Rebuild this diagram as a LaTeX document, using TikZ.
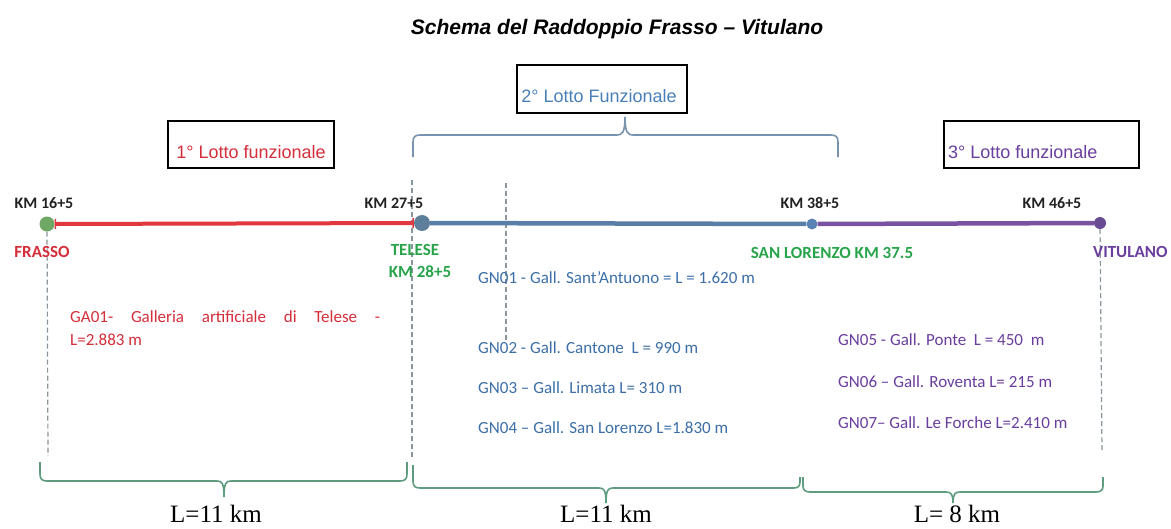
\documentclass[tikz,border=0pt]{standalone}
\usepackage{fontspec}
\setmainfont{Liberation Serif}
\newfontfamily\arialf{Liberation Sans}
\newfontfamily\calibf{Carlito}
\usetikzlibrary{arrows.meta}
\definecolor{rossoT}{HTML}{D42E3A}
\definecolor{rossoL}{HTML}{E0383E}
\definecolor{bluT}{HTML}{3C6FA8}
\definecolor{bluBox}{HTML}{4A80B8}
\definecolor{violaT}{HTML}{6A3E9E}
\definecolor{verdeT}{HTML}{28A44B}
\definecolor{lineB}{HTML}{5A7FA6}
\definecolor{lineP}{HTML}{7A52A2}
\definecolor{braceG}{HTML}{5E9C80}
\definecolor{braceB}{HTML}{7893AD}
\definecolor{dashG}{HTML}{8A969C}
\definecolor{frassoG}{HTML}{6FA865}
\definecolor{teleseB}{HTML}{5D7F9C}
\definecolor{sanlB}{HTML}{5A82B4}
\definecolor{vituP}{HTML}{6A4A92}
\definecolor{kmK}{HTML}{222222}
\begin{document}
\begin{tikzpicture}[x=1pt,y=-1pt,
  lottobox/.style={draw=black, line width=2.3pt, inner sep=0pt},
  lottotxt/.style={font=\arialf\fontsize{18}{20}\selectfont, inner sep=0pt, anchor=base},
  kmlab/.style={font=\calibf\bfseries\fontsize{16}{18}\selectfont, text=kmK, inner sep=0pt, anchor=base},
  stlab/.style={font=\calibf\bfseries\fontsize{17}{19}\selectfont, inner sep=0pt, anchor=base},
  gallab/.style={font=\calibf\fontsize{17}{19}\selectfont, inner sep=0pt, anchor=base west},
  dotnode/.style={circle, inner sep=0pt},
  dashline/.style={draw=dashG, line width=1.2pt, dash pattern=on 5pt off 3pt},
  bracegreen/.style={draw=braceG, line width=1.6pt},
  braceblue/.style={draw=braceB, line width=1.6pt},
  lentxt/.style={font=\fontsize{25}{27}\selectfont, inner sep=0pt, anchor=base}
]
\useasboundingbox (0,0) rectangle (1171,528);
\fill[white] (0,0) rectangle (1171,528);

% title
\node[font=\arialf\bfseries\itshape\fontsize{21}{24}\selectfont, inner sep=0pt, anchor=base] (title) at (617,34) {Schema del Raddoppio Frasso – Vitulano};

% lotto boxes
\node[lottobox, minimum width=166pt, minimum height=47pt] (box1) at (251,144.5) {};
\node[lottotxt, text=rossoT] (box1t) at (251,158) {1° Lotto funzionale};
\node[lottobox, minimum width=170pt, minimum height=48pt] (box2) at (602,89) {};
\node[lottotxt, text=bluBox] (box2t) at (599,102) {2° Lotto Funzionale};
\node[lottobox, minimum width=195pt, minimum height=47pt] (box3) at (1041.5,144.5) {};
\node[lottotxt, text=violaT, anchor=base west] (box3t) at (948,158) {3° Lotto funzionale};

% top brace under box 2
\draw[braceblue] (413,157) -- (413,142) .. controls (413,137) and (415,135) .. (420,135)
  -- (617,135) .. controls (622,135) and (625,133) .. (625,117)
  .. controls (625,133) and (628,135) .. (633,135)
  -- (831,135) .. controls (836,135) and (838,137) .. (838,142) -- (838,157);

% dashed verticals
\coordinate (fd) at (48,456);
\coordinate (td1) at (412,180);
\coordinate (td2) at (412,458);
\coordinate (md1) at (506,183);
\coordinate (md2) at (506,340);
\coordinate (vd) at (1102,452);

% stations
\node[dotnode, fill=frassoG, minimum size=15pt] (frasso) at (47,224) {};
\node[dotnode, fill=teleseB, minimum size=16pt] (telese) at (422,223) {};
\node[dotnode, fill=sanlB, minimum size=11pt] (sanl) at (812,224) {};
\node[dotnode, fill=vituP, minimum size=12pt] (vitu) at (1100,223) {};

\draw[dashline] (frasso) -- (fd);
\draw[dashline] (td1) -- (td2);
\draw[dashline] (md1) -- (md2);
\draw[dashline] (vitu) -- (vd);

\draw[rossoL, line width=4pt, {Bar[width=10pt,line width=1.5pt]}-{Bar[width=10pt,line width=1.5pt]}] (frasso) -- (telese);
\draw[lineB, line width=4.5pt] (telese) -- (sanl);
\draw[lineP, line width=4.5pt] (sanl) -- (vitu);

% km labels
\node[kmlab] (km1) at (44,208) {KM 16+5};
\node[kmlab] (km2) at (394,208) {KM 27+5};
\node[kmlab] (km3) at (810,208) {KM 38+5};
\node[kmlab] (km4) at (1052,208) {KM 46+5};

% station names
\node[stlab, text=rossoT] (nfrasso) at (42,257) {FRASSO};
\node[stlab, text=verdeT] (ntelese) at (415,255) {TELESE};
\node[stlab, text=verdeT] (ntelkm) at (420,277) {KM 28+5};
\node[stlab, text=verdeT] (nsanl) at (832,258) {SAN LORENZO KM 37.5};
\node[stlab, text=violaT, anchor=base west] (nvitu) at (1093,257) {VITULANO};

% gallerie
\node[gallab, text=rossoT] (ga1) at (70,322) {\makebox[310pt][s]{GA01-\ Galleria artificiale di Telese -}};
\node[gallab, text=rossoT] (ga1b) at (70,345) {L=2.883 m};

\node[gallab, text=bluT] (gn1) at (478,283) {GN01 - Gall. Sant’Antuono = L = 1.620 m};
\node[gallab, text=bluT] (gn2) at (478,353) {GN02 - Gall. Cantone\ \ L = 990 m};
\node[gallab, text=bluT] (gn3) at (478,393) {GN03 – Gall. Limata L= 310 m};
\node[gallab, text=bluT] (gn4) at (478,433) {GN04 – Gall. San Lorenzo L=1.830 m};

\node[gallab, text=violaT] (gn5) at (838,345) {GN05 - Gall. Ponte\ \ L = 450\ \ m};
\node[gallab, text=violaT] (gn6) at (838,387) {GN06 – Gall. Roventa L= 215 m};
\node[gallab, text=violaT] (gn7) at (838,428) {GN07– Gall. Le Forche L=2.410 m};

% bottom braces
\draw[bracegreen] (40,462) -- (40,474) .. controls (40,479) and (42,481) .. (47,481)
  -- (217,481) .. controls (222,481) and (224,483) .. (224,497)
  .. controls (224,483) and (226,481) .. (231,481)
  -- (400,481) .. controls (405,481) and (407,479) .. (407,474) -- (407,462);
\draw[bracegreen] (413,465) -- (413,481) .. controls (413,486) and (415,488) .. (420,488)
  -- (599,488) .. controls (604,488) and (606,490) .. (606,503)
  .. controls (606,490) and (608,488) .. (613,488)
  -- (794,488) .. controls (798,488) and (800,486) .. (800,482) -- (800,477);
\draw[bracegreen] (803,477) -- (803,486) .. controls (803,490) and (805,492) .. (810,492)
  -- (946,492) .. controls (951,492) and (953,494) .. (953,503)
  .. controls (953,494) and (955,492) .. (960,492)
  -- (1096,492) .. controls (1101,492) and (1103,490) .. (1103,486) -- (1103,477);

% lengths
\node[lentxt] (len1) at (216,522) {L=11 km};
\node[lentxt] (len2) at (606,522) {L=11 km};
\node[lentxt] (len3) at (957,522) {L= 8 km};
\end{tikzpicture}
\end{document}
